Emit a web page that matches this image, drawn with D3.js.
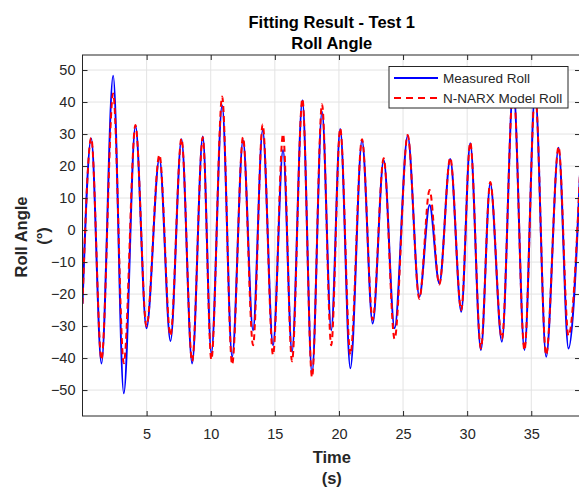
<!DOCTYPE html>
<html>
<head>
<meta charset="utf-8">
<script src="https://cdn.jsdelivr.net/npm/d3@7"></script>
<style>
  body { margin: 0; background: #fff; }
  text { font-family: "Liberation Sans", Arial, Helvetica, sans-serif; }
</style>
</head>
<body>
<svg id="chart" width="579" height="488"></svg>
<script>
'use strict';

// time of each turning point of the roll signal (s)
var times = [0, 0.68, 1.48, 2.39, 3.22, 4.13, 4.99, 6.0, 6.86, 7.72, 8.55, 9.38,
  10.05, 10.89, 11.67, 12.52, 13.3, 14.05, 14.86, 15.64, 16.34, 17.15, 17.9, 18.68,
  19.4, 20.1, 20.89, 21.8, 22.63, 23.49, 24.34, 25.36, 26.27, 27.07, 27.83, 28.68,
  29.54, 30.24, 31.07, 31.8, 32.71, 33.6, 34.47, 35.3, 36.16, 37.13, 37.9, 38.9];

// measured roll angle at those points (deg)
var measured = [-23, 28.6, -41.7, 48.2, -51, 32.6, -30.7, 22.4, -34.7, 28.4, -41.7, 29.2,
  -38.5, 39, -39.6, 28.1, -31.3, 31.2, -36, 25, -38, 40.6, -44.8, 37,
  -31.3, 31.6, -43.2, 28.1, -29.2, 21.9, -30.7, 29.5, -20.8, 7.8, -16.7, 22.2,
  -25.5, 27.1, -37.5, 14.6, -34.9, 45, -37.5, 43, -39.6, 25.7, -37, 27];

// N-NARX model output at those points (deg)
var model = [-23, 28.8, -40.5, 42.7, -41.6, 32.8, -30, 23.5, -33, 28.6, -41, 29,
  -40.5, 41.7, -42, 29, -36, 33, -39, 30, -41, 41, -46, 39.3,
  -36, 31.8, -39, 28.4, -28, 22.4, -34, 29.7, -21.5, 12.5, -17, 22.6,
  -25, 27.4, -37, 15, -34, 45, -37.5, 43, -39, 26, -33, 27];

var xTicks = [5, 10, 15, 20, 25, 30, 35];
var yTicks = [-50, -40, -30, -20, -10, 0, 10, 20, 30, 40, 50];
var seriesNames = ['Measured Roll', 'N-NARX Model Roll'];

// layout
var margins = { top: 55, right: -1, bottom: 72, left: 82.5 };
var width = 579, height = 488;
var chartW = width - margins.left - margins.right;
var chartH = height - margins.top - margins.bottom;
var axisColor = '#262626';

var svg = d3.select('#chart');

var x = d3.scaleLinear().domain([0, 38.8]).range([0, chartW]);
var y = d3.scaleLinear().domain([-58.1, 54.7]).range([chartH, 0]);

var plot = svg.append('g')
  .attr('transform', 'translate(' + margins.left + ',' + margins.top + ')');

plot.append('clipPath').attr('id', 'clip')
  .append('rect').attr('width', chartW).attr('height', chartH);

// grid
var grid = plot.append('g').attr('class', 'grid');
grid.selectAll('line.gx').data(xTicks).enter().append('line')
  .attr('x1', function (d) { return x(d); }).attr('x2', function (d) { return x(d); })
  .attr('y1', 0).attr('y2', chartH)
  .style('stroke', '#e3e3e3').style('stroke-width', 1);
grid.selectAll('line.gy').data(yTicks).enter().append('line')
  .attr('y1', function (d) { return y(d); }).attr('y2', function (d) { return y(d); })
  .attr('x1', 0).attr('x2', chartW)
  .style('stroke', '#e3e3e3').style('stroke-width', 1);

// lines
var line = d3.line()
  .x(function (d) { return x(d[0]); })
  .y(function (d) { return y(d[1]); })
  .curve(d3.curveMonotoneX);

var lines = plot.append('g').attr('clip-path', 'url(#clip)');
lines.append('path')
  .datum(d3.zip(times, measured))
  .attr('d', line)
  .style('fill', 'none').style('stroke', '#0000ff').style('stroke-width', 2);
lines.append('path')
  .datum(d3.zip(times, model))
  .attr('d', line)
  .style('fill', 'none').style('stroke', '#ff0000').style('stroke-width', 2)
  .style('stroke-dasharray', '6,4');

// axes (box with inward ticks)
function styleAxis(g) {
  g.select('.domain').remove();
  g.selectAll('.tick line').style('stroke', axisColor);
  g.selectAll('.tick text').style('fill', axisColor).style('font-size', '14.5px')
    .style('font-family', '"Liberation Sans", Arial, sans-serif');
}
plot.append('g').attr('transform', 'translate(0,' + chartH + ')')
  .call(d3.axisBottom(x).tickValues(xTicks).tickSizeInner(-5).tickPadding(13))
  .call(styleAxis);
plot.append('g')
  .call(d3.axisTop(x).tickValues(xTicks).tickSizeInner(-5).tickFormat(''))
  .call(styleAxis);
plot.append('g')
  .call(d3.axisLeft(y).tickValues(yTicks).tickSizeInner(-5).tickPadding(7))
  .call(styleAxis);
plot.append('g').attr('transform', 'translate(' + chartW + ',0)')
  .call(d3.axisRight(y).tickValues(yTicks).tickSizeInner(-5).tickFormat(''))
  .call(styleAxis);
plot.append('rect')
  .attr('width', chartW).attr('height', chartH)
  .style('fill', 'none').style('stroke', axisColor).style('stroke-width', 1);

// legend
var legend = plot.append('g').attr('transform', 'translate(' + (389 - margins.left) + ',' + (66.5 - margins.top) + ')');
legend.append('rect').attr('width', 179).attr('height', 41.5)
  .style('fill', '#fff').style('stroke', axisColor).style('stroke-width', 1);
legend.selectAll('line.leg').data(seriesNames).enter().append('line')
  .attr('x1', 5).attr('x2', 49)
  .attr('y1', function (d, i) { return 11.5 + i * 20; })
  .attr('y2', function (d, i) { return 11.5 + i * 20; })
  .style('stroke', function (d, i) { return i ? '#ff0000' : '#0000ff'; })
  .style('stroke-width', 2)
  .style('stroke-dasharray', function (d, i) { return i ? '7,5' : null; });
legend.selectAll('text.leg').data(seriesNames).enter().append('text')
  .attr('x', 54).attr('y', function (d, i) { return 11.5 + i * 20; })
  .attr('dy', '0.36em')
  .style('font-size', '13.5px').style('fill', axisColor)
  .text(function (d) { return d; });

// titles
var cx = margins.left + (579 - margins.left) / 2 + 1;
svg.append('text').attr('x', cx).attr('y', 28).attr('text-anchor', 'middle')
  .style('font-weight', 'bold').style('font-size', '16.5px').style('fill', '#000')
  .text('Fitting Result - Test 1');
svg.append('text').attr('x', cx).attr('y', 49).attr('text-anchor', 'middle')
  .style('font-weight', 'bold').style('font-size', '16.5px').style('fill', '#000')
  .text('Roll Angle');

// axis labels
svg.append('text').attr('x', cx).attr('y', 463).attr('text-anchor', 'middle')
  .style('font-weight', 'bold').style('font-size', '16.5px').style('fill', axisColor)
  .text('Time');
svg.append('text').attr('x', cx).attr('y', 484).attr('text-anchor', 'middle')
  .style('font-weight', 'bold').style('font-size', '16.5px').style('fill', axisColor)
  .text('(s)');
svg.append('text').attr('transform', 'translate(27,237) rotate(-90)').attr('text-anchor', 'middle')
  .style('font-weight', 'bold').style('font-size', '16.5px').style('fill', axisColor)
  .text('Roll Angle');
svg.append('text').attr('transform', 'translate(49,236) rotate(-90)').attr('text-anchor', 'middle')
  .style('font-weight', 'bold').style('font-size', '16.5px').style('fill', axisColor)
  .text('(°)');
</script>
</body>
</html>
